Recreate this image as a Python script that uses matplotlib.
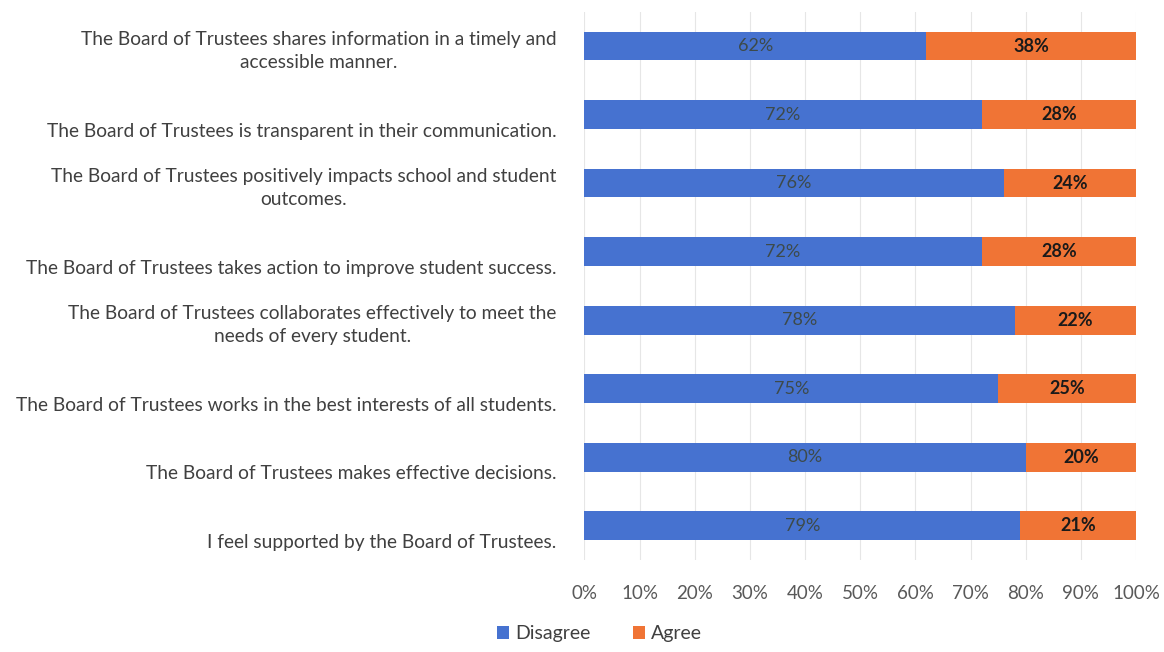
import numpy as np
import matplotlib.pyplot as plt
from matplotlib.ticker import PercentFormatter
from matplotlib.transforms import ScaledTranslation

statements = [
    "The Board of Trustees shares information in a timely and\naccessible manner.",
    "The Board of Trustees is transparent in their communication.",
    "The Board of Trustees positively impacts school and student\noutcomes.",
    "The Board of Trustees takes action to improve student success.",
    "The Board of Trustees collaborates effectively to meet the\nneeds of every student.",
    "The Board of Trustees works in the best interests of all students.",
    "The Board of Trustees makes effective decisions.",
    "I feel supported by the Board of Trustees.",
]
disagree = [62, 72, 76, 72, 78, 75, 80, 79]
agree = [38, 28, 24, 28, 22, 25, 20, 21]

BLUE = "#4672D0"
ORANGE = "#F07435"

plt.rcParams["font.family"] = ["Lato", "DejaVu Sans"]

fig = plt.figure(figsize=(11.64, 6.52), dpi=100)
ax = fig.add_axes([0.502, 0.141, 0.474, 0.841])

y = np.arange(len(statements))
h = 0.42
ax.barh(y, disagree, height=h, color=BLUE, label="Disagree", zorder=2)
ax.barh(y, agree, left=disagree, height=h, color=ORANGE, label="Agree", zorder=2)

for yi, d, a in zip(y, disagree, agree):
    ax.text(d / 2, yi, f"{d}%", ha="center", va="center",
            fontsize=13, color="#3d4a4a", zorder=3)
    ax.text(d + a / 2, yi, f"{a}%", ha="center", va="center",
            fontsize=13, color="#1a1a1a", fontweight="bold", zorder=3)

ax.set_xlim(0, 100)
ax.set_ylim(len(statements) - 0.5, -0.5)
ax.set_xticks(np.arange(0, 101, 10))
ax.xaxis.set_major_formatter(PercentFormatter(decimals=0))
ax.set_yticks(y)
ax.set_yticklabels(statements, ha="right", multialignment="center", linespacing=1.45)
ax.tick_params(axis="y", length=0, pad=20, labelsize=13.8, labelcolor="#404040")
ax.tick_params(axis="x", length=0, pad=18, labelsize=13.5, labelcolor="#595959")
ax.grid(axis="x", color="#e6e6e6", linewidth=0.8, zorder=0)
for s in ax.spines.values():
    s.set_visible(False)

# single-line labels sit on the lower line of a two-line slot
for lab in ax.get_yticklabels():
    if "\n" not in lab.get_text():
        lab.set_transform(lab.get_transform() + ScaledTranslation(0, -0.15, fig.dpi_scale_trans))

fig.legend(loc="lower center", bbox_to_anchor=(0.515, -0.012), ncol=2, frameon=False,
           fontsize=14, handlelength=0.6, handleheight=0.6, columnspacing=2.2,
           handletextpad=0.3, labelcolor="#404040")

fig.savefig("out.png", dpi=100)
